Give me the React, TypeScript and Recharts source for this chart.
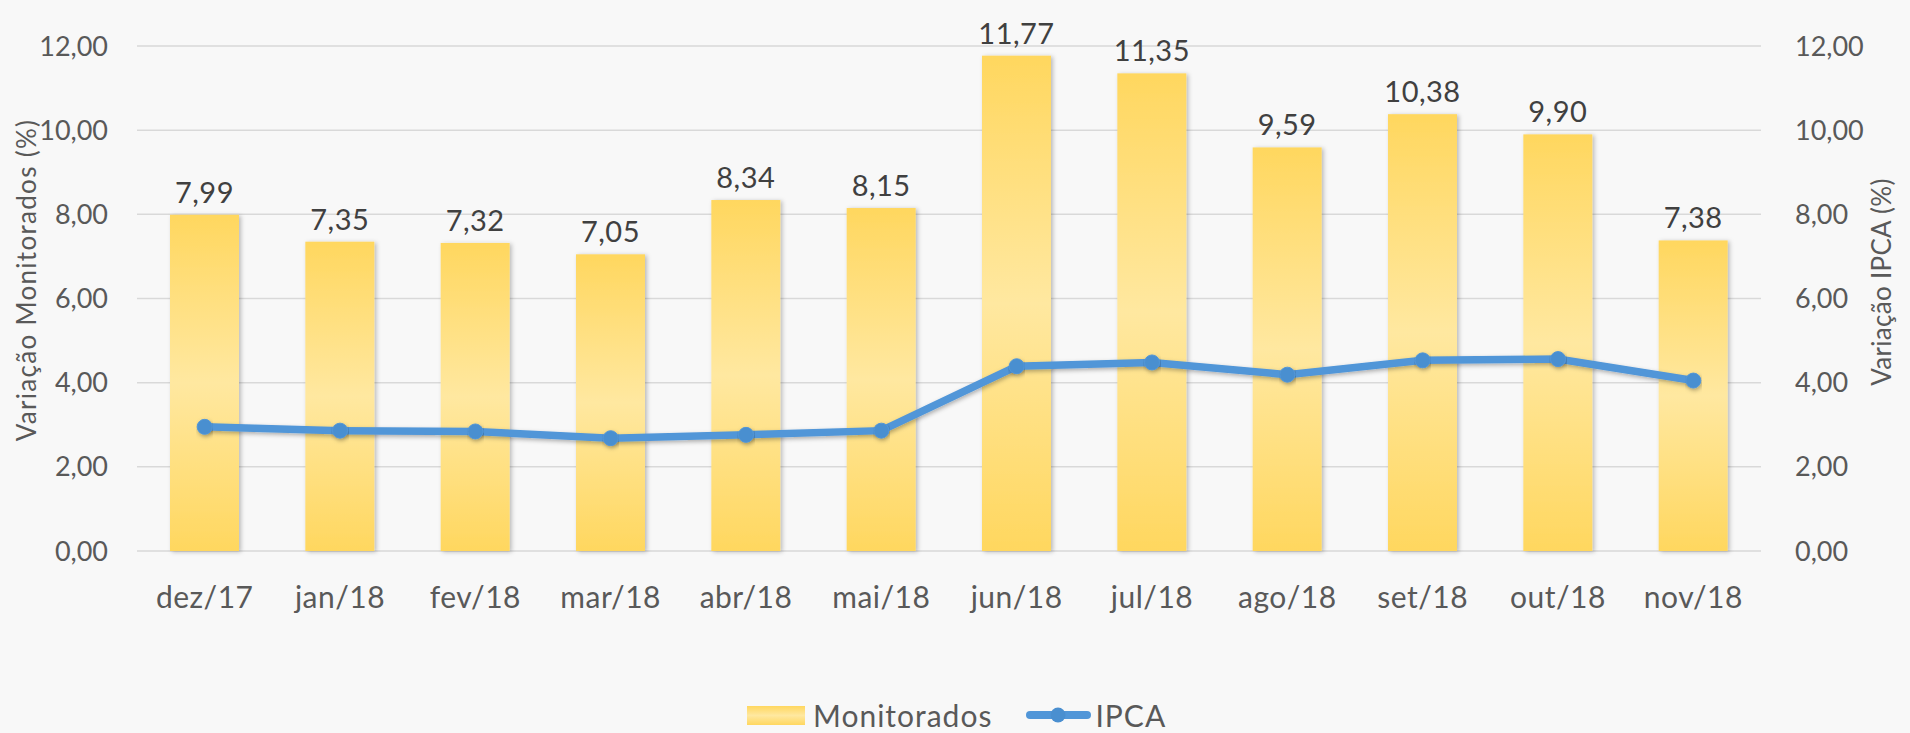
import React from 'react'
import {
  ComposedChart, Bar, Line, XAxis, YAxis, CartesianGrid, Legend, LabelList, Label,
} from 'recharts'

const months = ['dez/17', 'jan/18', 'fev/18', 'mar/18', 'abr/18', 'mai/18', 'jun/18', 'jul/18', 'ago/18', 'set/18', 'out/18', 'nov/18']
const monitorados = [7.99, 7.35, 7.32, 7.05, 8.34, 8.15, 11.77, 11.35, 9.59, 10.38, 9.90, 7.38]
const ipca = [2.95, 2.86, 2.84, 2.68, 2.76, 2.86, 4.39, 4.48, 4.19, 4.53, 4.56, 4.05]
const yTicks = [0, 2, 4, 6, 8, 10, 12]

const data = months.map((m, i) => ({ month: m, monitorados: monitorados[i], ipca: ipca[i] }))

const FONT = 'Lato, "Open Sans", sans-serif'
const TEXT = '#595959'
const BLUE = '#5196D8'
const fmt = (v: unknown) => Number(v).toFixed(2).replace('.', ',')

function BarShape(props: any) {
  const { x, y, width, height } = props
  if (!height || height <= 0) return null
  return <rect x={x} y={y} width={width} height={height} fill="url(#barGrad)" filter="url(#barShadow)" />
}

function LegendBox() {
  return (
    <div style={{ height: 30, paddingLeft: 747, display: 'flex', alignItems: 'center', fontFamily: FONT, fontSize: 30, color: TEXT, letterSpacing: 1 }}>
      <div style={{ width: 58, height: 19, background: 'linear-gradient(#FFD75F, #FFE8A0, #FFD75F)', marginRight: 8 }} />
      <span>Monitorados</span>
      <svg width={65} height={20} style={{ marginLeft: 34, marginRight: 4 }}>
        <line x1={4} y1={10} x2={61} y2={10} stroke={BLUE} strokeWidth={8} strokeLinecap="round" />
        <circle cx={32} cy={10} r={7.5} fill="#4A8FD0" />
      </svg>
      <span>IPCA</span>
    </div>
  )
}

export default function App() {
  return (
    <div style={{ position: 'absolute', left: 0, top: 0, width: 1910, height: 733, background: '#F8F8F8' }}>
      <ComposedChart width={1910} height={733} data={data} margin={{ top: 46, right: 0, left: 0, bottom: 3 }}>
        <defs>
          <linearGradient id="barGrad" x1="0" y1="0" x2="0" y2="1">
            <stop offset="0%" stopColor="#FFD75F" />
            <stop offset="50%" stopColor="#FFE8A0" />
            <stop offset="100%" stopColor="#FFD75F" />
          </linearGradient>
          <filter id="barShadow" x="-20%" y="-10%" width="140%" height="120%">
            <feDropShadow dx="2" dy="1" stdDeviation="2" floodColor="#000" floodOpacity="0.25" />
          </filter>
          <filter id="lineShadow" x="-5%" y="-50%" width="110%" height="200%">
            <feDropShadow dx="1" dy="2" stdDeviation="2" floodColor="#000" floodOpacity="0.3" />
          </filter>
        </defs>
        <CartesianGrid stroke="#D9D9D9" strokeWidth={1.5} vertical={false} yAxisId="left" />
        <XAxis
          dataKey="month"
          height={149}
          axisLine={false}
          tickLine={false}
          tickMargin={30}
          tick={{ fontSize: 30, fill: TEXT, fontFamily: FONT, letterSpacing: 0.5 }}
        />
        <YAxis
          yAxisId="left"
          width={137}
          domain={[0, 12]}
          ticks={yTicks}
          tickFormatter={fmt}
          axisLine={false}
          tickLine={false}
          tickMargin={23}
          tick={{ fontSize: 27, fill: TEXT, fontFamily: FONT }}
        >
          <Label
            content={() => (
              <text x={26} y={280} transform="rotate(-90 26 280)" textAnchor="middle" dominantBaseline="central"
                fontSize={26} fill={TEXT} fontFamily={FONT} letterSpacing={1.3}>
                Variação Monitorados (%)
              </text>
            )}
          />
        </YAxis>
        <YAxis
          yAxisId="right"
          orientation="right"
          width={149}
          domain={[0, 12]}
          ticks={yTicks}
          tickFormatter={fmt}
          axisLine={false}
          tickLine={false}
          tickMargin={28}
          tick={{ fontSize: 27, fill: TEXT, fontFamily: FONT }}
        >
          <Label
            content={() => (
              <text x={1881} y={282} transform="rotate(-90 1881 282)" textAnchor="middle" dominantBaseline="central"
                fontSize={26} fill={TEXT} fontFamily={FONT} letterSpacing={0.3}>
                Variação IPCA (%)
              </text>
            )}
          />
        </YAxis>
        <Legend verticalAlign="bottom" content={() => <LegendBox />} wrapperStyle={{ left: 0, width: 1910 }} />
        <Bar yAxisId="left" dataKey="monitorados" name="Monitorados" barSize={69} shape={BarShape} isAnimationActive={false}>
          <LabelList
            dataKey="monitorados"
            position="top"
            offset={12}
            formatter={fmt}
            style={{ fontSize: 29, fill: '#404040', fontFamily: FONT, letterSpacing: 0.5 }}
          />
        </Bar>
        <Line
          yAxisId="right"
          dataKey="ipca"
          name="IPCA"
          type="linear"
          stroke={BLUE}
          strokeWidth={7.5}
          dot={{ r: 7.5, fill: '#4A8FD0', stroke: BLUE, strokeWidth: 1 }}
          activeDot={false}
          style={{ filter: 'url(#lineShadow)' }}
          isAnimationActive={false}
        />
      </ComposedChart>
    </div>
  )
}
